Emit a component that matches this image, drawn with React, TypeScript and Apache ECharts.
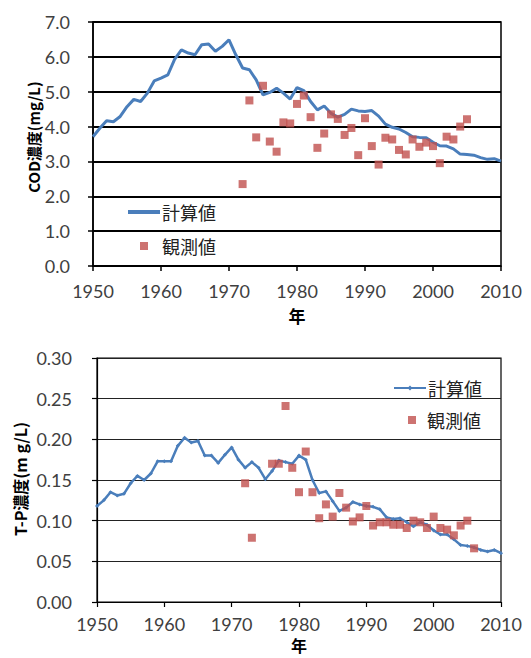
import React, { useEffect, useRef } from "react";
import * as echarts from "echarts";

const years: number[] = [];
for (let y = 1950; y <= 2010; y++) years.push(y);

const codCalc = [
  3.71, 3.95, 4.17, 4.14, 4.29, 4.57, 4.78, 4.72, 4.96, 5.31,
  5.39, 5.48, 5.93, 6.2, 6.11, 6.06, 6.35, 6.37, 6.16, 6.3,
  6.49, 6.06, 5.68, 5.63, 5.34, 4.91, 4.98, 5.1, 4.96, 4.79,
  5.12, 5.03, 4.72, 4.48, 4.59, 4.38, 4.27, 4.35, 4.5, 4.45,
  4.43, 4.46, 4.3, 4.07, 3.98, 3.93, 3.83, 3.71, 3.69, 3.68,
  3.55, 3.45, 3.44, 3.36, 3.21, 3.2, 3.18, 3.11, 3.06, 3.08,
  3.01,
];

const codObsYears = [
  1972, 1973, 1974, 1975, 1976, 1977, 1978, 1979, 1980, 1981,
  1982, 1983, 1984, 1985, 1986, 1987, 1988, 1989, 1990, 1991,
  1992, 1993, 1994, 1995, 1996, 1997, 1998, 1999, 2000, 2001,
  2002, 2003, 2004, 2005,
];
const codObs = [
  2.35, 4.75, 3.69, 5.17, 3.57, 3.28, 4.12, 4.09, 4.65, 4.89,
  4.27, 3.39, 3.8, 4.35, 4.22, 3.76, 3.96, 3.18, 4.24, 3.44,
  2.91, 3.68, 3.63, 3.33, 3.2, 3.63, 3.42, 3.54, 3.44, 2.95,
  3.71, 3.63, 4.0, 4.21,
];

const tpCalc = [
  0.118, 0.125, 0.135, 0.131, 0.133, 0.146, 0.155, 0.15, 0.158, 0.173,
  0.173, 0.173, 0.192, 0.202, 0.196, 0.198, 0.18, 0.18, 0.171, 0.181,
  0.19, 0.175, 0.165, 0.172, 0.165, 0.151, 0.161, 0.174, 0.172, 0.17,
  0.18, 0.175, 0.15, 0.134, 0.136, 0.124, 0.112, 0.116, 0.123, 0.12,
  0.118, 0.117, 0.114, 0.104, 0.102, 0.103, 0.098, 0.093, 0.098, 0.095,
  0.088, 0.083, 0.083, 0.077, 0.07, 0.069, 0.067, 0.064, 0.062, 0.064,
  0.06,
];

const tpObsYears = [
  1972, 1973, 1976, 1977, 1978, 1979, 1980, 1981, 1982, 1983,
  1984, 1985, 1986, 1987, 1988, 1989, 1990, 1991, 1992, 1993,
  1994, 1995, 1996, 1997, 1998, 1999, 2000, 2001, 2002, 2003,
  2004, 2005, 2006,
];
const tpObs = [
  0.146, 0.079, 0.17, 0.17, 0.241, 0.165, 0.135, 0.185, 0.135, 0.103,
  0.12, 0.105, 0.134, 0.116, 0.099, 0.104, 0.118, 0.094, 0.098, 0.098,
  0.095, 0.095, 0.091, 0.1, 0.098, 0.091, 0.105, 0.091, 0.089, 0.082,
  0.094, 0.1, 0.066,
];

const xTicks = { min: 1950, max: 2010, interval: 10 };
const codTicks = { min: 0, max: 7, interval: 1 };
const tpTicks = { min: 0, max: 0.3, interval: 0.05 };

const BLUE = "#4A7EBB";
const RED = "#C0504D";
const LABEL_COLOR = "#404040";
const NUM_FONT = "Lato, 'Noto Sans', sans-serif";
const CJK_FONT = "'Noto Sans CJK JP', sans-serif";

export default function App() {
  const ref = useRef<HTMLDivElement>(null);
  useEffect(() => {
    if (!ref.current) return;
    const chart = echarts.init(ref.current, null, { renderer: "svg" });
    const xAxisBase = (gridIndex: number, nameGap: number, labelMargin: number, w: number, nameSize: number) => ({
      type: "value" as const,
      gridIndex,
      ...xTicks,
      name: "年",
      nameLocation: "middle" as const,
      nameGap,
      nameTextStyle: { fontSize: nameSize, fontWeight: "bold" as const, color: "#000", fontFamily: CJK_FONT },
      axisLine: { show: true, lineStyle: { color: "#000", width: w } },
      axisTick: { show: true, length: 5, lineStyle: { color: "#000", width: w } },
      axisLabel: { fontSize: 18, color: LABEL_COLOR, fontFamily: NUM_FONT, margin: labelMargin, formatter: (v: number) => String(v) },
      splitLine: { show: false },
    });
    const legendText = { fontSize: 18, color: "#222", fontFamily: CJK_FONT };
    const legendFmt = (n: string) => n.replace(/[12]$/, "");
    chart.setOption({
      animation: false,
      grid: [
        { left: 93, right: 30, top: 22, height: 244, show: true, borderColor: "#000", borderWidth: 1.5 },
        { left: 97, right: 30, top: 358, height: 244, show: true, borderColor: "#000", borderWidth: 1.2 },
      ],
      xAxis: [xAxisBase(0, 41, 16, 1.5, 17), xAxisBase(1, 35, 13, 1.2, 16)],
      yAxis: [
        {
          type: "value",
          gridIndex: 0,
          ...codTicks,
          axisLine: { show: true, lineStyle: { color: "#000", width: 1.5 } },
          axisTick: { show: true, length: 5, lineStyle: { color: "#000", width: 1.5 } },
          axisLabel: { fontSize: 18, color: LABEL_COLOR, fontFamily: NUM_FONT, margin: 23, formatter: (v: number) => v.toFixed(1) },
          splitLine: { show: true, lineStyle: { color: "#000", width: 1.8 } },
        },
        {
          type: "value",
          gridIndex: 1,
          ...tpTicks,
          axisLine: { show: true, lineStyle: { color: "#000", width: 1.2 } },
          axisTick: { show: true, length: 5, lineStyle: { color: "#000", width: 1.2 } },
          axisLabel: { fontSize: 18, color: LABEL_COLOR, fontFamily: NUM_FONT, margin: 25, formatter: (v: number) => v.toFixed(2) },
          splitLine: { show: true, lineStyle: { color: "#222", width: 1 } },
        },
      ],
      legend: [
        {
          left: 123,
          top: 198,
          itemWidth: 32,
          itemHeight: 4,
          data: [{ name: "計算値1", icon: "rect" }],
          formatter: legendFmt,
          textStyle: { ...legendText, padding: [0, 0, 0, -3] },
        },
        {
          left: 135,
          top: 232,
          itemWidth: 8,
          itemHeight: 8,
          data: [{ name: "観測値1", icon: "rect" }],
          formatter: legendFmt,
          textStyle: { ...legendText, padding: [0, 0, 0, 9] },
        },
        {
          left: 388,
          top: 374,
          itemWidth: 32,
          itemHeight: 6,
          data: ["計算値2"],
          formatter: legendFmt,
          textStyle: { ...legendText, padding: [0, 0, 0, -3] },
        },
        {
          left: 403,
          top: 406,
          itemWidth: 8,
          itemHeight: 8,
          data: [{ name: "観測値2", icon: "rect" }],
          formatter: legendFmt,
          textStyle: { ...legendText, padding: [0, 0, 0, 6] },
        },
      ],
      graphic: [
        {
          type: "text",
          x: 33,
          y: 137,
          rotation: Math.PI / 2,
          style: {
            text: "COD濃度(mg/L)",
            fontSize: 15,
            fontWeight: "bold",
            fill: "#000",
            align: "center",
            verticalAlign: "middle",
            fontFamily: CJK_FONT,
          },
        },
        {
          type: "text",
          x: 20,
          y: 479,
          rotation: Math.PI / 2,
          style: {
            text: "T-P濃度(m g/L)",
            fontSize: 16,
            fontWeight: "bold",
            fill: "#000",
            align: "center",
            verticalAlign: "middle",
            fontFamily: CJK_FONT,
          },
        },
      ],
      series: [
        {
          name: "計算値1",
          type: "line",
          xAxisIndex: 0,
          yAxisIndex: 0,
          data: years.map((y, i) => [y, codCalc[i]]),
          symbol: "none",
          lineStyle: { color: BLUE, width: 3 },
          itemStyle: { color: BLUE },
          z: 3,
        },
        {
          name: "観測値1",
          type: "scatter",
          xAxisIndex: 0,
          yAxisIndex: 0,
          data: codObsYears.map((y, i) => [y, codObs[i]]),
          symbol: "rect",
          symbolSize: 8,
          itemStyle: { color: RED },
          z: 4,
        },
        {
          name: "計算値2",
          type: "line",
          xAxisIndex: 1,
          yAxisIndex: 1,
          data: years.map((y, i) => [y, tpCalc[i]]),
          symbol: "diamond",
          symbolSize: 4,
          lineStyle: { color: BLUE, width: 2.5 },
          itemStyle: { color: BLUE },
          z: 3,
        },
        {
          name: "観測値2",
          type: "scatter",
          xAxisIndex: 1,
          yAxisIndex: 1,
          data: tpObsYears.map((y, i) => [y, tpObs[i]]),
          symbol: "rect",
          symbolSize: 8,
          itemStyle: { color: RED },
          z: 4,
        },
      ],
    });
    return () => chart.dispose();
  }, []);
  return (
    <div
      ref={ref}
      style={{ position: "absolute", left: 0, top: 0, width: 531, height: 658, background: "#fff" }}
    />
  );
}
